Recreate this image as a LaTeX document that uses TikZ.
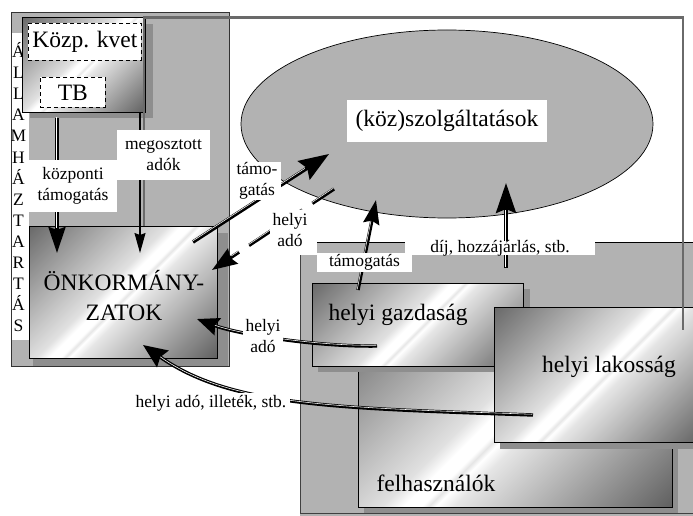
\documentclass[tikz,border=0pt]{standalone}
\usepackage{fontspec}
\setmainfont{Liberation Serif}
\usetikzlibrary{arrows.meta,shapes.geometric}
\definecolor{bg}{HTML}{B2B2B2}
\definecolor{shadowc}{HTML}{8E8E8E}
\definecolor{framec}{HTML}{6A6A6A}
\pgfdeclarehorizontalshading{boxshade}{100bp}{color(0bp)=(black!58); color(15bp)=(black!58); color(45bp)=(black!12); color(48bp)=(white); color(50.5bp)=(white); color(51.5bp)=(black!10); color(52.5bp)=(white); color(55bp)=(black!10); color(85bp)=(black!62); color(100bp)=(black!62)}
\begin{document}
\begin{tikzpicture}[x=1pt,y=-1pt,
  gbox/.style={draw=black!80, line width=0.8pt, fill=bg, anchor=north west, inner sep=0},
  gradbox/.style={draw=black, line width=0.8pt, shade, shading=boxshade, shading angle=-45, inner sep=0, anchor=north west},
  dbox/.style={draw=black, line width=0.8pt, dash pattern=on 4pt off 3pt, fill=white, inner sep=0, anchor=north west, font=\fontsize{23.5}{28}\selectfont},
  big/.style={font=\fontsize{23.5}{30}\selectfont, inner sep=0, align=center},
  lbl/.style={fill=white, inner sep=0, align=center, font=\fontsize{17.5}{20.5}\selectfont},
  fat/.style={draw=black, line width=#1},
  inner/.style={draw=white, line width=0.55pt, -, transform canvas={shift={(-0.75,-0.75)}}},
  thin/.style={draw=black, line width=1.2pt}
]
\useasboundingbox (0,0) rectangle (693,516);

% --- background containers
\node[gbox, minimum width=218, minimum height=353.5] (allam) at (11,12.5) {};
\fill[white] (11.5,33) rectangle (29,340);
\foreach \ch [count=\i from 0] in {Á,L,L,A,M,H,Á,Z,T,A,R,T,Á,S}
  \node[font=\fontsize{17.5}{20}\selectfont, anchor=base, inner sep=0] (al\i) at (18.5,58+21*\i) {\ch};

\fill[bg] (317,242) rectangle (700,520);
\fill[bg] (300,255) rectangle (700,520);
\draw[black, line width=0.8pt] (317,242) -- (700,242);
\draw[black!75, line width=0.8pt] (300,255) -- (300,513) -- (700,513);

% --- ellipse
\node[ellipse, draw=black, line width=0.7pt, fill=bg, minimum width=412, minimum height=188, inner sep=0] (ell) at (447,124) {};

% --- Kozp box
\fill[shadowc] (30,24) rectangle (153,118);
\node[gradbox, minimum width=123, minimum height=94.5] (kozp) at (22,17.5) {};
\node[dbox, minimum width=113, minimum height=37] (kvet) at (28,23) {Közp. kvet};
\node[dbox, minimum width=65, minimum height=30] (tb) at (40,77) {TB};

% --- Onkormanyzatok
\fill[shadowc] (33,233) rectangle (228,366);
\node[gradbox, minimum width=188, minimum height=132] (onk) at (29,226) {};
\node[big] (onkt) at (124,295.5) {ÖNKORMÁNY-\\ZATOK};

% --- right boxes
\fill[shadowc] (364,316) rectangle (678,513);
\node[gradbox, minimum width=314, minimum height=197] (felh) at (358,310) {};
\node[big] (felht) at (436,483) {felhasználók};
\fill[shadowc] (318,289) rectangle (530,372);
\node[gradbox, minimum width=211, minimum height=83] (gazd) at (312,283) {};
\node[big] (gazdt) at (398,315) {helyi gazdaság};
\fill[shadowc] (500,313) rectangle (705,449);
\node[gradbox, minimum width=210, minimum height=135] (lak) at (494,307) {};
\node[big] (lakt) at (609,367) {helyi lakosság};

% --- frame line
\coordinate (fr1) at (144,226);
\coordinate (fr2) at (144,17.5);
\coordinate (fr3) at (683,17.5);
\coordinate (fr4) at (683,330);
\draw[framec, line width=2.5pt] (fr1) -- (fr2) -- (fr3) -- (fr4);

% --- connector end points
\coordinate (a1s) at (57,118);  \coordinate (a1e) at (57,253);
\coordinate (a2s) at (140,112); \coordinate (a2e) at (140,253);
\coordinate (a3s) at (193,242); \coordinate (a3e) at (329,154);
\coordinate (a4s) at (334,189); \coordinate (a4e) at (212,270);
\coordinate (a5s) at (358,290); \coordinate (a5e) at (376,200);
\coordinate (a6s) at (506,268); \coordinate (a6e) at (506,183);
\coordinate (a7s) at (377,346); \coordinate (a7e) at (197,319);
\coordinate (a8s) at (533,415); \coordinate (a8e) at (143,345);

% --- connectors
\draw[fat=3.4pt, -{Stealth[length=26pt,width=17pt,inset=3pt]}, postaction={inner, shorten >=24pt}] (a1s) -- (a1e);
\draw[thin, -{Stealth[length=20pt,width=11pt,inset=2pt]}] (a2s) -- (a2e);
\draw[fat=3.6pt, -{Stealth[length=30pt,width=22pt,inset=4pt]}, postaction={inner, shorten >=28pt}] (a3s) -- (a3e);
\draw[fat=3.4pt, dash pattern=on 26pt off 12pt, -{Stealth[length=25pt,width=18pt,inset=3pt]}, postaction={inner, shorten >=24pt}] (a4s) -- (a4e);
\draw[fat=3.4pt, -{Stealth[length=24pt,width=16pt,inset=3pt]}, postaction={inner, shorten >=22pt}] (a5s) -- (a5e);
\draw[fat=3.6pt, -{Stealth[length=30pt,width=20pt,inset=4pt]}, postaction={inner, shorten >=28pt}] (a6s) -- (a6e);
\draw[fat=3.4pt, -{Stealth[length=22pt,width=18pt,inset=3pt]}, postaction={inner, shorten >=20pt}] (a7s) .. controls (320,347) and (240,335) .. (a7e);
\draw[fat=3.4pt, -{Stealth[length=24pt,width=20pt,inset=3pt]}, postaction={inner, shorten >=22pt}] (a8s) .. controls (330,408) and (230,406) .. (a8e);

% --- labels
\node[lbl, minimum width=200, minimum height=42, font=\fontsize{23.5}{28}\selectfont] (szolg) at (447,121) {(köz)szolgáltatások};
\node[lbl, minimum width=88, minimum height=52] (kt) at (73,186) {központi\\támogatás};
\node[lbl, minimum width=93, minimum height=50] (ma) at (163.5,155) {megosztott\\adók};
\node[lbl, minimum width=48, minimum height=38] (tg) at (257,181) {támo-\\gatás};
\node[lbl, minimum width=40, minimum height=40] (ha1) at (290,230) {helyi\\adó};
\node[lbl, minimum width=95, minimum height=19] (tam) at (364.5,262.5) {támogatás};
\node[lbl, minimum width=190, text height=10pt, text depth=2pt, inner ysep=1pt] (dij) at (500,248) {díj, hozzájárlás, stb.};
\node[lbl, minimum width=40, minimum height=40] (ha2) at (263,336) {helyi\\adó};
\node[lbl, minimum width=158, minimum height=20] (hai) at (211,403) {helyi adó, illeték, stb.};
\end{tikzpicture}
\end{document}
